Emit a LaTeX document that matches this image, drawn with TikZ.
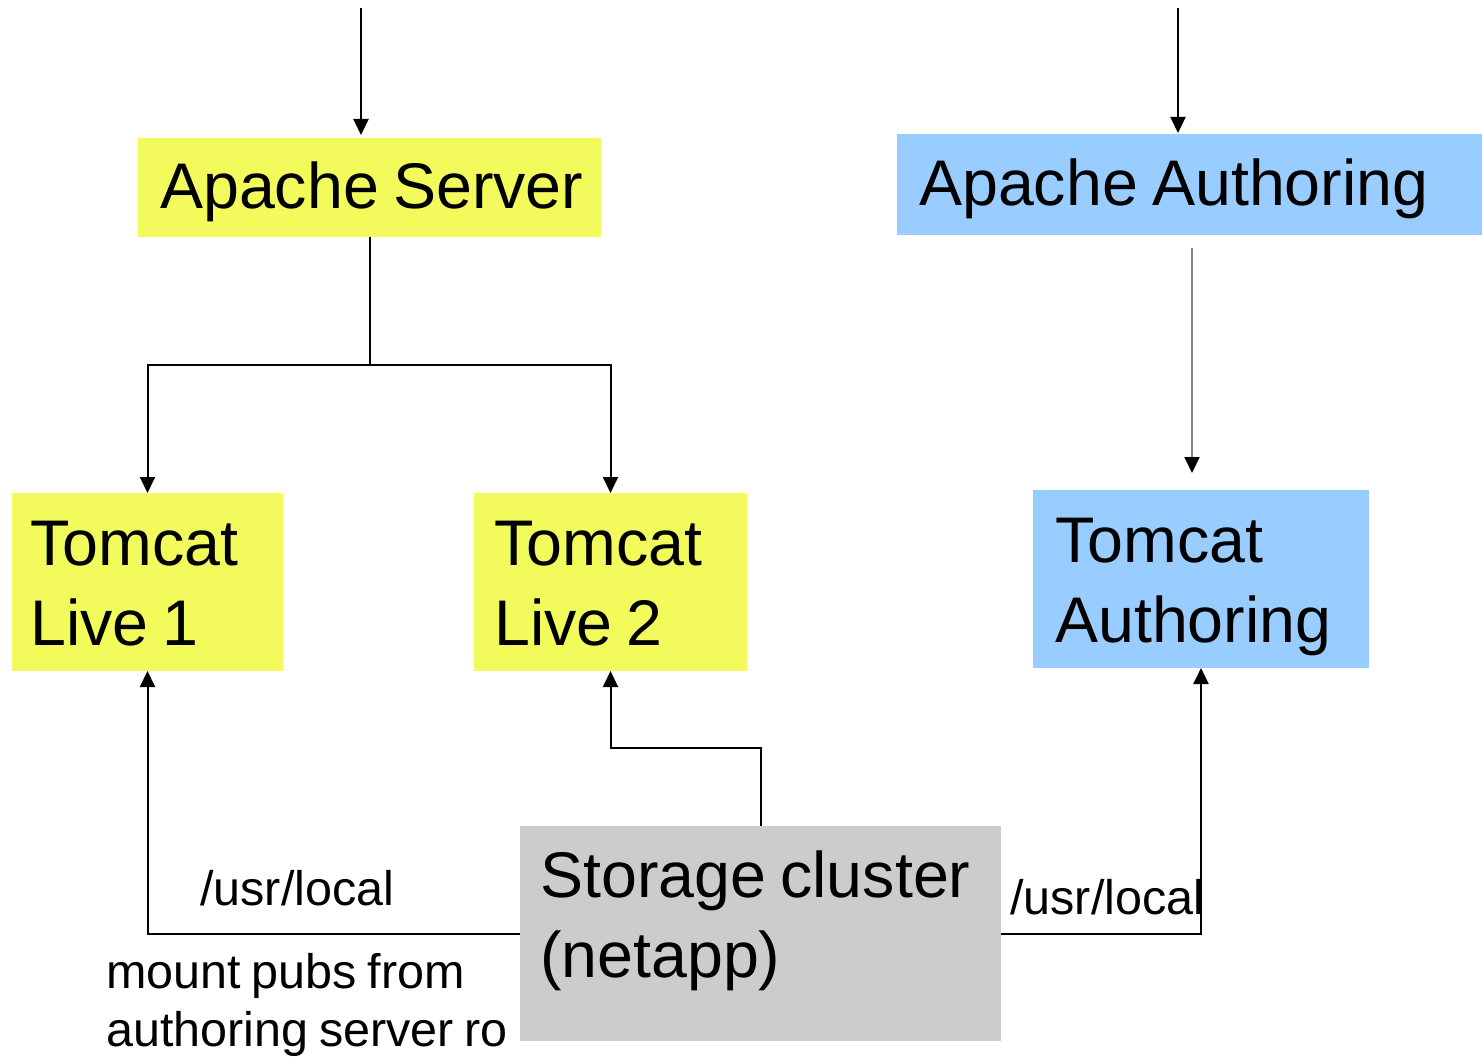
\documentclass[tikz,border=0pt]{standalone}
\usepackage{fontspec}
\setmainfont{Liberation Sans}[WordSpace=0.8]
\usetikzlibrary{arrows.meta}
\definecolor{ylw}{HTML}{F2FA5C}
\definecolor{blu}{HTML}{99CCFF}
\definecolor{gry}{HTML}{CCCCCC}
\definecolor{lgr}{HTML}{808080}
\begin{document}
\begin{tikzpicture}[x=1pt,y=-1pt,
  box/.style={rectangle, inner sep=0pt, outer sep=0pt, draw=none, anchor=north west},
  big/.style={font=\fontsize{64.5}{80}\selectfont, inner sep=0pt, anchor=base west, align=flush left, text width=#1},
  small/.style={font=\fontsize{48.5}{58}\selectfont, inner sep=0pt, anchor=base west, align=flush left, text width=#1},
  arr/.style={line width=2pt, -{Triangle[width=15pt,length=16pt]}},
  garr/.style={line width=2pt, draw=lgr, -{Triangle[width=15pt,length=16pt,black]}}
]
\useasboundingbox (0,0) rectangle (1482,1059);
% boxes
\node[box, fill=ylw, minimum width=463pt, minimum height=99pt] (aps) at (138,138) {};
\node[box, fill=blu, minimum width=585pt, minimum height=101pt] (apa) at (897,134) {};
\node[box, fill=ylw, minimum width=271pt, minimum height=178pt] (tl1) at (12,493) {};
\node[box, fill=ylw, minimum width=273pt, minimum height=178pt] (tl2) at (474,493) {};
\node[box, fill=blu, minimum width=336pt, minimum height=178pt] (ta) at (1033,490) {};
\node[box, fill=gry, minimum width=481pt, minimum height=215pt] (st) at (520,826) {};
% box texts
\node[big=440pt] (apsT) at (160,209) {Apache Server};
\node[big=560pt] (apaT) at (919,206) {Apache Authoring};
\node[big=250pt] (tl1T) at (30,565) {Tomcat\\Live 1};
\node[big=250pt] (tl2T) at (494,565) {Tomcat\\Live 2};
\node[big=310pt] (taT) at (1055,562) {Tomcat\\Authoring};
\node[big=460pt] (stT) at (540,897) {Storage cluster\\(netapp)};
% labels
\node[small=200pt] (lab1) at (200,905) {/usr/local};
\node[small=200pt] (lab2) at (1010,914) {/usr/local};
\node[small=420pt] (lab3) at (106,988) {mount pubs from\\authoring server ro};
% incoming
\coordinate (in1) at (361,8);
\coordinate (in2) at (1178,8);
\draw[arr, shorten >=3pt] (in1) -- (in1 |- aps.north);
\draw[arr, shorten >=1pt] (in2) -- (in2 |- apa.north);
% apache server to tomcats
\draw[arr] (aps.south) -- ++(0,128) -| (tl1.north);
\draw[arr] (aps.south) -- ++(0,128) -| (tl2.north);
% apache authoring to tomcat authoring
\draw[garr] ([xshift=2.5pt,yshift=-13pt]apa.south) -- ([xshift=-9pt,yshift=17pt]ta.north);
% storage
\draw[arr] (st.west) -| (tl1.south);
\draw[arr] (st.north) -- ++(0,-78) -| (tl2.south);
\draw[arr] (st.east) -| (ta.south);
\end{tikzpicture}
\end{document}
